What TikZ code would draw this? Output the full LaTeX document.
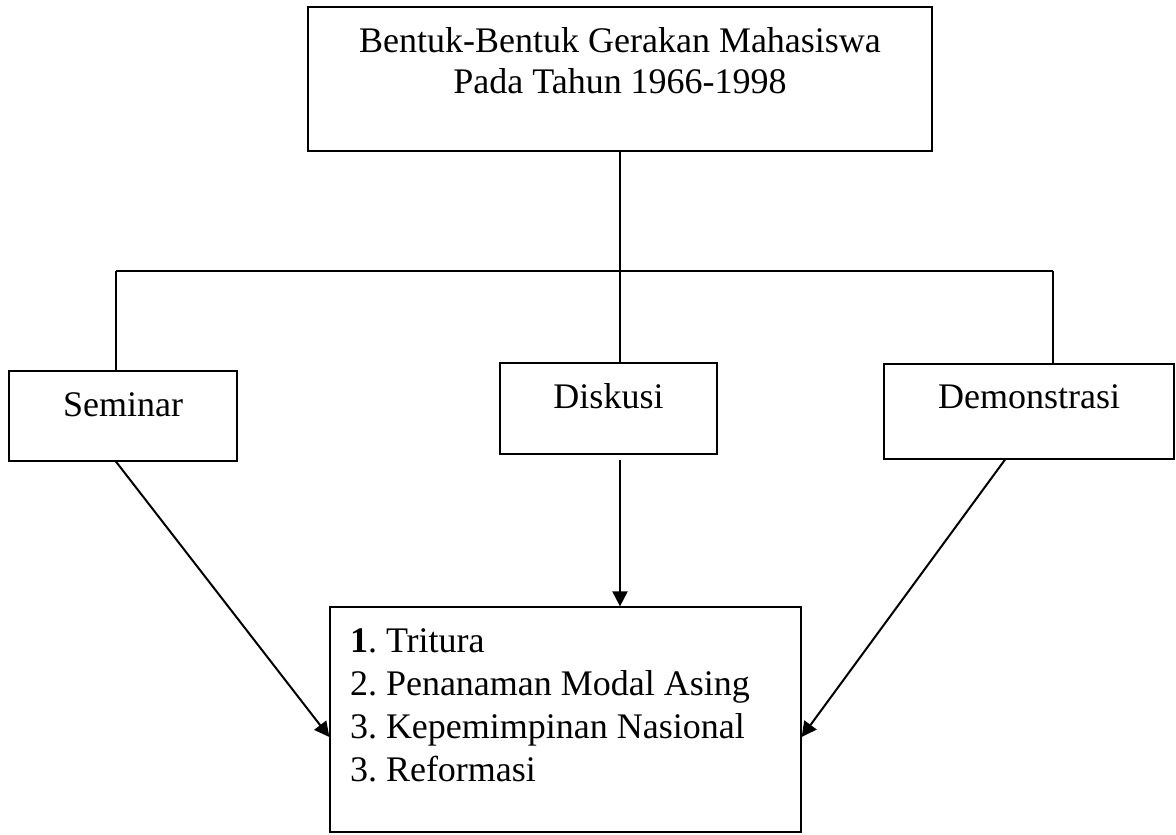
\documentclass[tikz,border=0pt]{standalone}
\usepackage{fontspec}
\setmainfont{Liberation Serif}
\usetikzlibrary{arrows.meta}
\definecolor{ChartInk}{HTML}{000000}
\tikzset{
  chart/box/.style={
    draw=ChartInk, line width=.65pt, fill=white,
    inner xsep=0pt, inner ysep=0pt,
    font=\fontsize{18}{21}\selectfont\frenchspacing, align=center
  },
  chart/list/.style={
    chart/box, align=flush left, inner xsep=10pt,
    font=\fontsize{18}{21.5}\selectfont\frenchspacing
  },
  chart/link/.style={draw=ChartInk, line width=.65pt},
  chart/arrow/.style={
    -{Triangle[length=7.5pt,width=7.5pt]}, line width=1pt, draw=ChartInk
  }
}

\begin{document}
\begin{tikzpicture}[x=.5pt,y=-.5pt]
  \useasboundingbox (0,0) rectangle (1176,834);
  \node[chart/box, minimum width=312pt, text height=43.5pt, text depth=28.5pt,
    font=\fontsize{18}{20.5}\selectfont] (theme) at (620,79)
    {Bentuk-Bentuk Gerakan Mahasiswa\\Pada Tahun 1966-1998};
  \node[chart/box, minimum width=114pt, text height=22.5pt, text depth=22.5pt]
    (seminar) at (123,416) {Seminar};
  \node[chart/box, minimum width=108.5pt, text height=22.5pt, text depth=23pt]
    (diskusi) at (608.5,408.5) {Diskusi};
  \node[chart/box, minimum width=145pt, text height=22pt, text depth=25.5pt]
    (demo) at (1029,411.5) {Demonstrasi};
  \node[chart/list, text width=215.5pt, text height=22.5pt, text depth=90pt]
    (result) at (565.5,719.5)
    {\textbf{1}. Tritura\\2. Penanaman Modal Asing\\3. Kepemimpinan Nasional\\3. Reformasi};
  % branch bar
  \coordinate (hub) at (620,271);
  \coordinate (barL) at (116,271);
  \coordinate (barR) at (1053,271);
  \draw[chart/link] (theme.south) -- (hub);
  \draw[chart/link] (barL) -- (barR);
  \draw[chart/link] (barL) -- (barL |- seminar.north);
  \draw[chart/link] (hub) -- (hub |- diskusi.north);
  \draw[chart/link] (barR) -- (barR |- demo.north);
  % arrows into the list
  \draw[chart/arrow] (seminar.south -| barL) -- ([yshift=-8.75pt]result.west);
  \draw[chart/arrow, shorten <=2.5pt] (hub |- diskusi.south) -- (hub |- result.north);
  \draw[chart/arrow] ([xshift=-12pt]demo.south) -- ([yshift=-8.75pt]result.east);
\end{tikzpicture}
\end{document}
